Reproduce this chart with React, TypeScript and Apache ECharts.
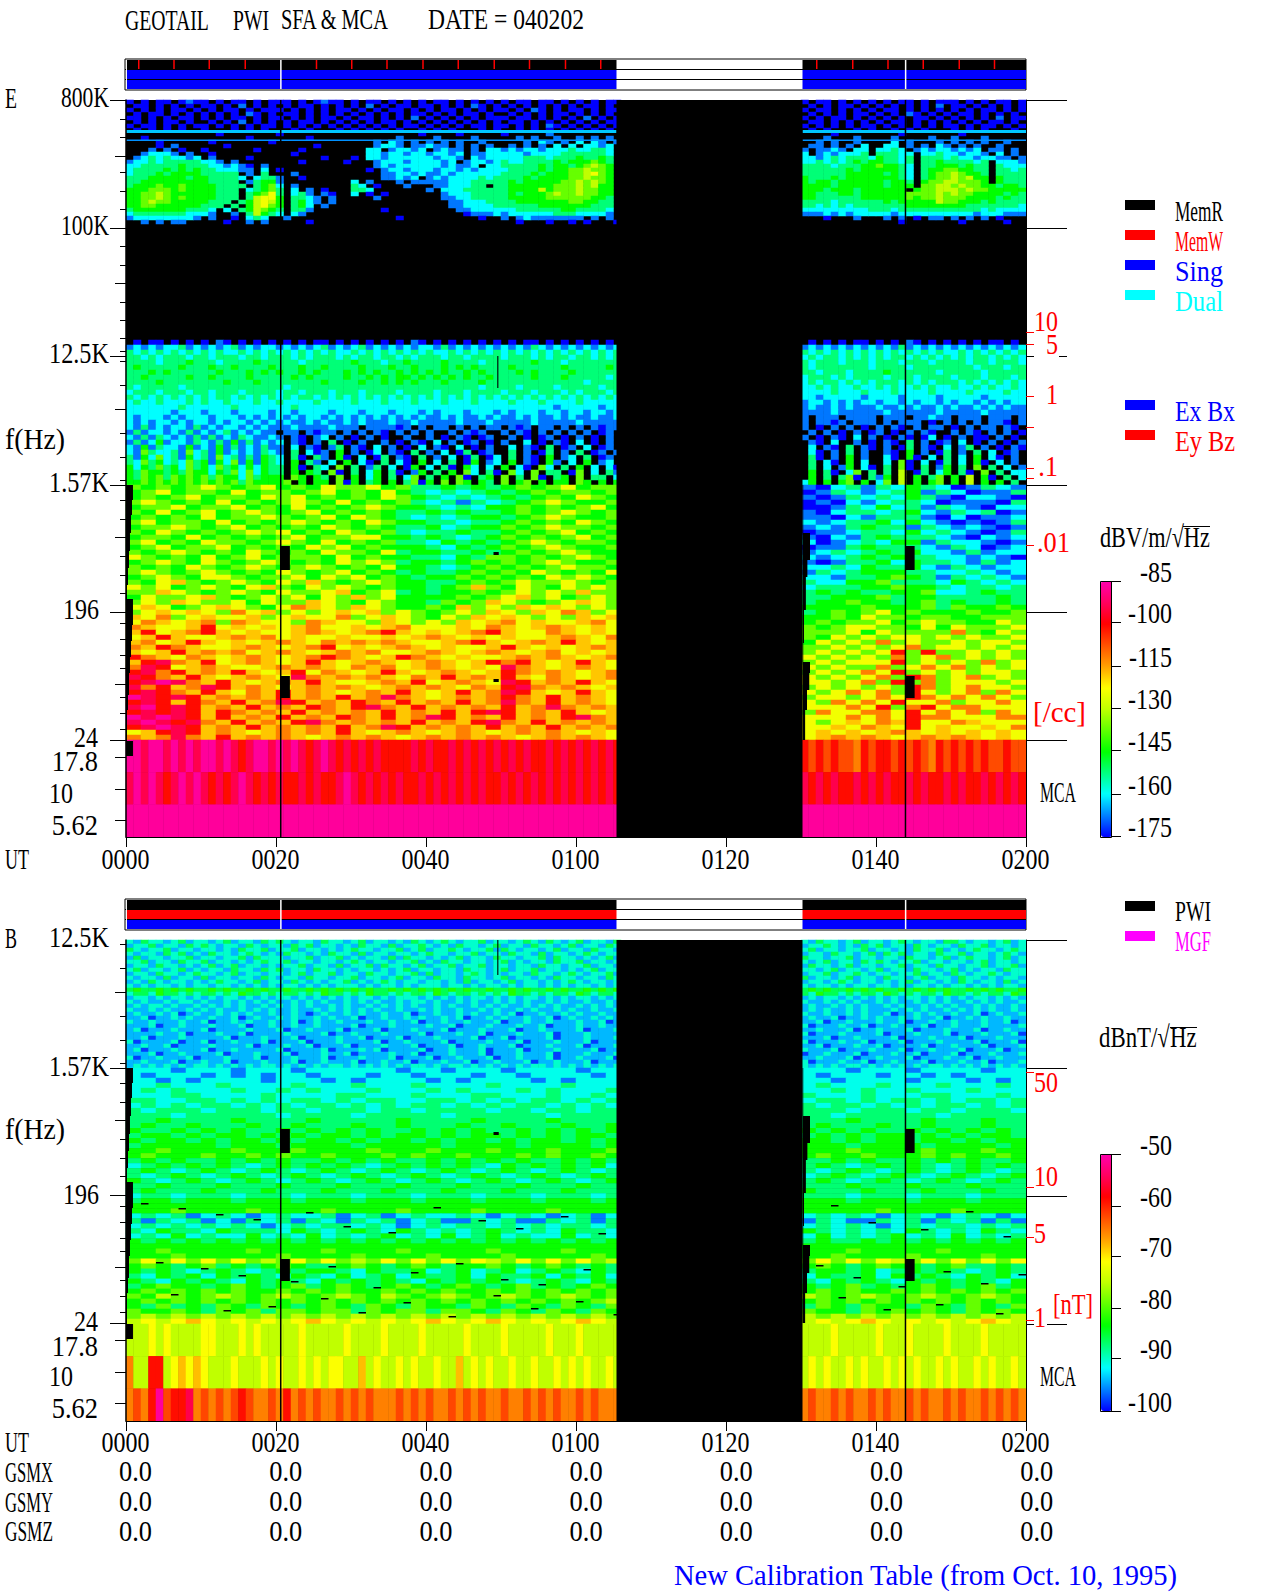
import React, { useEffect, useRef } from "react";
import * as echarts from "echarts";

// ---------- colour code of the spectrogram cells, as a fraction of the colour bar ----------
const LEVELS: Record<string, number> = {
  "0": 0.0, "1": 0.08, "2": 0.17, "3": 0.25, "4": 0.33, "5": 0.42, c: 0.5,
  "6": 0.57, b: 0.63, "7": 0.7, o: 0.76, "8": 0.82, a: 0.9, "9": 0.98,
};
const RAINBOW = ["#0000ff", "#0080ff", "#00ffff", "#00ff80", "#00ff00", "#60ff00", "#c0ff00", "#ffff00", "#ffa000", "#ff5000", "#ff0000", "#ff0060", "#ff00b0"];

// ---------- E field, top band, one cell a minute: left of the gap | right of the gap ; "." = no signal ----------
const eTopRows = [
  "0.0.00.010 0.0.00.0.0 00.0.0100. 0.00.0.0.0 .00.0.0.0. 0.00.00.0. 0.0.00|0.00.0.0.0 .0.00.0.00 0.0.0.00.0",
  ".00.0.0.0. 00.0.1.0.0 .0.00.0.0. 0.1.0.00.0 0.0.0.10.0 .0.0.0.0.0 .00.0.|.0.0.00.0. 0.0.0.0.1. 00.0.0.0.0",
  "0.0.0.00.0 .0.00.0.00 0.0.0.0.00 .0.0.00.0. 0.00.0.0.0 0.0.10.0.0 0.0.00|0.00.0.0.0 .00.0.0.0. 0.0.00.0.0",
  ".0.00.0.0. 0.0.0.10.0 .00.0.0.0. 0.0.0.0.00 .0.0.00.0. .0.0.0.00. 0.0.0.|.0.0.0.00. 0.0.10.0.0 .00.0.0.0.",
  "00.0.0.00. 0.0.00.0.0 0.0.0.00.0 .00.0.0.1. 0.0.0.0.00 0.00.0.0.0 .1.0.0|0.0.00.0.0 .0.0.00.0. 0.0.0.1.00",
  ".0.0.00.0. .0.0.1.0.0 .0.00.0.0. 0.0.00.0.0 .0.0.0.0.0 .00.0.0.0. 0.0.00|.00.0.0.0. 0.00.0.0.0 .0.0.00.0.",
  "0.00.0.0.0 0.0.0.0.00 .0.0.0.0.0 .0.0.0.00. 0.0.0.00.0 0.0.0.10.0 .0.0.0|0.0.0.0.00 .0.0.0.0.0 0.0.00.0.0",
  ".0.0.0.0.. 0...0.0.0. ..0.0...0. 0.0.0.0..0 .0.0...0.0 ..0.0.0.0. 0.0.0.|.0.0...0.0 ..0.0.0... 0.0.0...0.",
  ".......... ..0....... 0......... .........0 ....0..... 0.....1... ......|....0..... ...0...... .0........",
  "..0....... ......0... ....0..... ......1... .1....1... ..1.1..1.. 1.1.1.|...1...1.. ..1....1.. 1...1.....",
  "....0..... .0.......0 .......... ...1.21.1. 1.1.1..1.. ...1.21.1. 2.21.1|..1.1..1.. ..2.1...1. 1.1.1..1..",
  "....0.1... ...0...... .....0.... ...1221.11 211.1.1.1. .1.1.1.2.2 .2212.|.11.1.1.2. .22.1.1.21 .1.1..1...",
  "...1.1.0.. 0......0.. ...0...... ..22.12212 .1211.1.22 1212212223 22332.|1.1121.22. 2232.12122 1212.11.1.",
  "..12221.1. .0........ ..0....... ..22122122 12212.1122 2221222233 33332.|2.1212223. 33322.2232 21221.2.1.",
  ".123232212 .1....0... ......0... 0.22122222 21221.2122 2223332333 43343.|2212323332 43323.3332 32212211.1",
  "1223233333 221.1..... ...0.....0 ...1222122 2212.12212 3223333434 44543.|2232323434 43323.3343 33323.2221",
  "2233333433 3221210.1. .......... ...1212222 2212112.22 3333343443 45c54.|3333233344 54432.3344 43433.3222",
  "2333343434 3322211.2. 0......... ..0.122122 2122121222 2333343445 5c554.|3333334344 44432.3445 54433.3323",
  "2333434444 33333.1.3. ..1....... ....112212 1121222222 3333434445 5c654.|3333334444 43432.3455 c5443.3333",
  "3334444434 433332.233 1..0...... ....11212. 1212222323 3334344445 5c554.|4333434444 44432.3455 c5c44.4333",
  "3344444444 43333.1344 1......... 2.1...1.11 1112223333 3434444455 c5c54.|4344344444 43443.455c c5554.4333",
  "3444544544 443333.345 2.1....... 32.0...1.. .1122233.3 3444444555 c5c44.|4444344444 43444.55cc 5c55443443",
  "4445554544 44333.2345 3.2.1.0... 332....... 1.22233333 34444c4555 c5544.|4443444344 4444.455cc c5c5544444",
  "4455c54444 44333.3456 3.231.10.. 2.0.0..... ..12223333 3434445c55 c5544.|4433344344 44445555c5 c554444343",
  "4455c54544 44333.3c66 4.3321.1.. ...1...... ..11223333 3444445555 55443.|4433333344 44445455c5 5544443433",
  "445c554444 4333.34c6c 4.3421.1.. .......... ...1122233 3344444445 54433.|3333233333 34344444c5 5444343333",
  "4455444444 333.3.4c65 4.342.1... .......... ...1122223 3333344444 44333.|3323232333 3333444444 4433333332",
  "3444444433 32.2.34c54 3.331..... ....0..... ....112222 2233333344 33332.|2222222223 3323333333 3333232222",
  "2333333322 21..1.3c43 2.21...... .......... .....01112 1222222333 22221.|1112121222 2212222222 2221222111",
  "1222222221 .1..0.232. .1........ ......0... .......0.. 1.12111111 1.1.1.|...0...1.. .1.1.0.11. 1.1.1.0...",
  "..1.1.11.. ...0..1.1. ....0..... .......... .......... ..0...0..0 .0...0|.......... ...0...... .0.....0..",
  "",
];

// ---------- E field, below 12.5K, one cell a minute ----------
const eMidRows = [
  ".0.00.0.0. 0.10.0.0.0 .0.0.00.0. 0.0.0.0.10 .0.0.0.0.0 .0.00.0.0. 0.0.0.|.0.0.0.00. 0.0.10.0.0 .0.0.00.0.",
  "1212122312 1212312122 1212123121 2312121212 2131212121 2121321212 121212|1212121212 1213121212 1212121212",
  "3232323232 3232232323 2323232322 3232323232 3223232323 2323232323 232323|3232323232 3232323232 2323232323",
  "3323233323 3233323323 3323233323 2332332323 3323323333 2333232332 332323|2323323232 3233232323 2323323232",
  "3333233343 3323333433 3332333333 4333233433 3343333233 3333433323 333333|3233323332 3332333233 3323323332",
  "3433333433 3433433334 3334334333 3433343343 3343434333 3433333343 333343|3233333332 3333233333 3332333233",
  "3334343333 3343334343 4334343334 3434334343 4343343433 3343433334 333333|3323332333 3433333323 3333233333",
  "3343333343 3433334333 3343433334 3343434434 3434343343 3333433343 333323|2333232333 3233323333 2333233323",
  "3333433333 3334333433 3333334333 3433434343 3343333433 3333333333 323333|2323323232 3332323233 3232323232",
  "3233333233 3333333333 3233333333 3333333333 3333333233 3323333233 333233|2232322322 3232232322 3223232232",
  "2333233323 3233323333 2332333233 3233332333 3233323333 2333233323 233323|2222322232 2232222322 2232222322",
  "3232323232 3233232323 2323323232 3232323232 3232323232 3232323232 323232|2212222212 2221222212 2222122222",
  "2322322232 3223222322 3222232222 3222322232 2232223222 2322232222 322222|1221212122 1221212212 1221212122",
  "2222222322 2222322222 2232222222 2222222222 2222222222 2222222122 222122|1211212111 2112121121 2112121211",
  "2222221222 1222122221 2212222122 2122212221 2122212221 2122212212 212212|1111211111 1211111121 1111211111",
  "2122212122 2122212121 2121221212 1212121212 1121211212 1121211212 112112|1.111.1111 .111.11211 .111.111.1",
  "2121221212 2121221212 1211212112 1211121121 1111211121 1111211111 211111|1.1101.111 .1.111.0.1 .1.1.110.1",
  "2131212213 1212212121 1121111211 1.111101.1 .11.1.1.11 .101.11.1. 1.1011|1.0.1.1.0. 1.10.1.11. 0.1.11.10.",
  "1312212131 2123121211 .11.1011.1 .1.10.1.1. 1..1.101.. 1.10.1.1.1 .1.01.|.1.1.0.1.0 1.0.1.10.. 1.10.1.1.0",
  "2131321213 1312132112 1.10.12.1. 0.1.0..1.. 1.0.10.01. .1.0.01.0. 1.0.1.|1.0.10.2.1 .0.10.02.0 .1.00.1.0.",
  "1312412213 2131413121 2.10.1.3.0 .1..1.0.10 .2.1.01.0. 1..2.0.10. 2.0.1.|.10.2..1.0 .10.3.1.01 .2.0.1.0.1",
  "2141322141 2141312131 1.2.10.13. 10.2.1.0.2 .10.2.0.1. .2.10.3.01 .2.01.|.2.10.3.10 .1.03.10.2 .13.1.0.10",
  "2153223152 3141212132 1.3.201.4. 1.02.10.3. 1.2.03.01. .3.1.03.1. 3.01.1|.20.1.3.1. .10.4.1.03 .1.3.2.01.",
  "3142523142 3152313143 2.30.31.40 .2.03.10.3 .1.2.03.02 .3.10.4.12 .3.01.|.30.1.4.1. .20.40.2.3 .2.4.20.1.",
  "3253423253 4142514143 2.4.31.2.4 .20.3.20.4 .2.3.04.12 .4.10.41.2 .4.12.|.3.20.4.2. .2.50.2.03 .2.40.2.1.",
  "4243534253 4253424243 3.40.32.5. 3.13.2.04. 2.30.42.2. 4.20.52.3. 4.2.20|.3.2.14.20 .3.50.3.14 .3.5.3.2.1",
  "4354434354 4243525243 3.4.43.50. 3.24.30.14 .3.4.52.30 .52.5.33.0 5.2.31|.4.30.25.3 .3.c.03.24 .30.5.3.22",
  "4354535454 5354425344 4.54.43.5. 4.24.3.25. 3.4.50.34. 5.3.50.34. 5.33.2|.4.3.350.3 14.c.4.35. 4.c.40.3.2",
  "4454545454 5454535444 45.4.44.50 4.34.4.350 4.5.54.43. 5.45.4.44. 54.4.4|24.4.45.4. 25.c.4.45. 4.c.4.4.3.",
];

const eLowerRows = [
  "545456545645465564533434345456455|102313243201321",
  "456455464554564546432323434545545|013212341320113",
  "454564554656454546543232343454654|101323243102210",
  "565454645456546454532313234565445|010212332011103",
  "455645564546454565443232445454564|001324231321022",
  "546456456545645454334343345456545|102332342132301",
  "454546455654564654323234434565445|110213331020112",
  "564554645456545465443323345454654|212334242101013",
  "455654564545465454334234454565545|121343313212101",
  "546545456564546545323343345456454|011233242321013",
  "455464545456455664434323454545645|102134333210212",
  "564546554565464545332434345654554|201232441322101",
  "456455645454656454443243454565445|011343332132012",
  "545654546545465546344334345456544|123234342213122",
  "654546456455546454433243554545654|212343433221210",
  "456546545654546565344345454565445|101334243321312",
  "545465456545654546443234545456554|223243342132122",
  "565456545465456454343345454654546|132344433223212",
  "456546654556465645434454545465654|221334543132321",
  "546b54565465b54565443345456556545|322445333243232",
  "656456546b5465654544345b546546565|233344544323323",
  "55b65456546556b456343445456565b55|343433445223433",
  "46556b545656465b5644445456b564565|334445344333343",
  "565b65564655b65465443545b65456b65|344544345343343",
  "6b6456b65467b65b654454b565b6b6565|444454445354454",
  "56b6b6576b5656b6b5654565b65b67b56|345456454445445",
  "b6756b66b56b66756b65465b6b6565b6b|445465545544555",
  "67b6b757b6657b665b6565b6b76b66b76|454556456554465",
  "7b66b86b6b6b766b6b7666b67b6b7b6b6|545665546465556",
  "b86b78b6b66b7b6b78b6b6b78b667b6b6|555646555575465",
  "6b8b66b7b76b66b66b6b7b6b6b66b7b67|546565665656556",
  "b76b8b6b6b7b67b7b7b66b78b6b7b8b6b|465657565565665",
  "7b87b66b7b6b786b6b7b6b66b8b6b6b7b|556565675665656",
  "b6b8b7b76b7b6b7b766b7b6b7b6b76b6b|565656858556565",
  "87b67b6b7b6b787b6b87b6b66b7b7b6b7|656565756756565",
  "b8a7b86b7b6b8b6b7b6b7b6b878b6b8b6|565666856565756",
  "7a86b7b66b7b7b67b76b7b6b6a7b6b7b6|656557567675656",
  "8a78b7b8b6b867b6b8b6b7b6b87b7b6b7|565676856565665",
  "a87b8b6b7b6a7b7b7b67b8b7b8b67b6b7|656567587567565",
  "8a9a7b8b6b7b8b66b7b86b7b6a8b7b8b6|665675857566656",
  "a78b7a8b7b6b7b7b6b7b7b67b8a7b7b6b|565656587567665",
  "8a87b8b67b8b7b6b7b8b6b8b7a8b6b8b6|656767586567576",
  "9a8a8b7b7b8b7b8b7a7b6b7b787b8b7b6|566567687676765",
  "8a8b87b8b7a8b7b87b8b7b8b7a7b8b7b6|657676866756676",
  "a98a8b7b8b7b87b8a7b8b7b7b8b7a7b7b|666768578677666",
  "8a8a8b87b7b8b7b7b8b7b8b8a8b7b8b6b|576677686767576",
  "9a9a8b8b7b8b7b87b8b7a8b7b8b7b8a7b|666767687766677",
  "a9a8a7b8b7b8a7b7b7b8b7b8a7b8b7b7b|656b67b8667b666",
  "8a9a8b7b8b7b7b8b7a8b7b7b8b7b8b7b7|66b67b686b66b67",
  "6b8a8b7b6b7b7b8b6b7b6b7b6b7b7b6b6|6b6b6b7b6b6b6b6",
  "7b7a7b8b7b7b6b7b7b6b7b7b7b6b7b7b6|6b7b7b6b7b7b6b6",
];

const eMcaRows = [
  "99a99a9a9a99a9a8a99a9a9a8a9a8a8a8a8888a8a88a8a8a8a8a8a88a8a8a8a8a8|8o8o8oo78o88o8o8o78o8o8o8oo8oo",
  "a9a9a8a9a9a8a8a9a8a8a88a8a88a9a8a8a8a88a8a8a8a8a88a8a8a8a8a8a8a8a8|a8a8a88a8a8a88a8a88a8a88a8a8a8",
  "999999999999999999999999999999999999999999999999999999999999999999|999999999999999999999999999999",
];

// ---------- B field, one cell a minute above 1.57K ----------
const bUpperRows = [
  "2132212312 2123122132 3212213221 2312212132 1232122312 2123213212 312213|2132212312 2123212213 3212212312",
  "1223122132 3212213212 2132312212 1322131223 2121322123 1221322123 122132|1223212132 3122132122 1322312212",
  "3212231221 2212132231 2231221212 3221223123 1223212231 3212212312 213221|2312212231 2212132231 2123221232",
  "2122132312 1322123212 1322121322 1312212212 3221223122 1322131221 232122|1221322123 1323122132 2312212321",
  "1312212231 2212231322 2122312231 2122131322 1212312213 2212231322 121231|3221223122 1221322123 1232212312",
  "2231221322 3122121232 2312212212 3212212231 2132212212 3121221322 312212|2123122132 3212231221 2212312212",
  "1221322121 2312312212 1223122131 2231322123 1223122312 2122132212 231221|1322123122 1223122132 2122312231",
  "2312212312 1221322132 3122132212 1221212312 2122132212 3122312212 123122|2212312212 3122132212 3121221322",
  "1221322123 2212312212 2123122312 2132212231 3122123212 1221322123 212231|1223122321 2212231221 3212232122",
  "2122131221 3122122132 1221322122 3122123122 1322132212 3122121322 122132|3122123122 1322123122 1322121221",
  "1213212212 1232212312 2132121223 1212321221 2212131221 2312212123 212212|1221232122 1212312212 1321221312",
  "2121221212 2122121212 1221212122 2121221212 2212212122 1212212121 221212|2122121221 2212122121 2212121221",
  "3433434343 3434334343 3433434343 4343343434 3434343343 3434334343 343434|3434334343 4334343434 3343434334",
  "2332433232 3323243323 2332324332 3243323233 2432332323 2433232332 432332|3243323233 2432323324 3323233243",
  "1221212212 1212212121 2212121212 1221212221 2121212212 1212212121 221212|1212212121 2121221212 1212212121",
  "2121121221 2112121212 1121212112 1212112122 1211212112 1212112121 121121|2112121211 2121121212 1121212112",
  "1212212112 1212121121 2121211212 1121212121 1212112121 2112121211 212121|1211212121 1212112121 2112121121",
  "2112121121 2121121212 1121121212 1212112112 1211211212 1121211212 112112|1212112121 1121212112 1212121121",
  "1211212012 1121212112 1121012112 1211211201 1211212112 1201121121 211211|2112112121 1201121211 2112012112",
  "1120112121 1211201211 2121121211 2011211212 1121201121 2112112012 112121|1211201121 2112121120 1121211211",
  "2112111211 2011212112 1120121121 1121121120 1121121112 0112112111 211201|1120112111 2112011211 2111211201",
  "1112011211 1211120112 1121121111 2011121111 2112011121 1121120111 211211|2011121120 1121112011 2111211112",
  "1201112111 2011112111 2011211120 1112011121 1120111211 1201121111 201112|1121112011 2111201112 1112011211",
  "1111211201 1121120111 1211112011 2111211112 0111211201 1121112011 121111|2011121111 2011121112 0111211120",
  "1120111211 1112011121 1120111121 1201112011 1211112011 2011112011 121112|1112011211 1120111211 1201112111",
  "2011112011 2011211120 1112011121 1112011211 1120111121 1120111211 120111|2011121120 1112011121 1112011120",
  "1121120111 1211112011 1211201112 0111211120 1112011211 1201112111 201112|1120111211 2011112011 2111201112",
  "1201112111 2011211111 2011112011 1212011112 0112111201 1120111211 112011|2111201112 1112011211 1201112011",
  "1112011211 1120111211 1201112112 0111121120 1112111201 1121112011 121112|0112111201 1121120111 2011121112",
  "2011211120 1112111201 1121112011 1211120111 2011211120 1121112011 211120|1121112011 2111201112 1120112111",
  "1121112011 2112011121 1120112111 2011211201 1121120112 1112011211 120111|2011121120 1121112011 1211201112",
  "1212121212 2121212122 1212121221 2121212122 1212212121 2121221212 121212|2121212212 1212121221 2121212121",
];

const bLowerRows = [
  "222122212221222222122122212222122|222122212222122",
  "212221212122122212212221221222212|212221221212222",
  "221212222122212122221212222121222|221222212221212",
  "223222322223222322232222322223222|232223222322232",
  "232322232232322232223232223232223|223232232223222",
  "222332222322223322232223322232232|322232223322232",
  "332233232323323233223323232332323|233232332323323",
  "232323323232332323233232323323232|323323232332323",
  "323332333233233323323333233233233|333233323323332",
  "333233333323333233333233333323333|332333333233333",
  "334333343333433333433334333343333|333433334333433",
  "343343334334333433433343343334334|343334334333433",
  "433434343343434343343434334343434|434343343434343",
  "344343443434344343443434434343443|343434434343443",
  "434434344343443434434344343443434|443434434434344",
  "344444344434444344444344443444434|444344443444434",
  "445444454445444454445444544454445|444544445444544",
  "454445445454454445454454445454454|454454445454454",
  "343433434343343434334343434334343|334343343434334",
  "234343432343434323434343243434342|343234343234343",
  "343234323432343234323432343234323|323432343234323",
  "323432343234323432343234323432343|234323432343234",
  "432343234323432343234323432343234|343234323432343",
  "334333433343334333433343334333433|333433343334333",
  "343334333433343334333433343334333|433343334333433",
  "233233323332333233323332333233323|333233323332333",
  "344344434443444344434443444344434|444344434443444",
  "444444444444444444444444444444444|444444444444444",
  "444544445444454444544445444454444|444445444454444",
  "232312321232231231232232123212312|232321232123212",
  "313231213231321323123113231132313|132113231323131",
  "232323232123233232123233232323323|232321232332323",
  "324332433324323432432323432324332|432323243232432",
  "232423224232423234232423423224232|242323423242323",
  "434343434343434343434343434343434|343343434343434",
  "444444444444444444444444444444444|444444444444444",
  "445444445444454444544444544445444|444544444544444",
  "444544444454444544445444454444454|445444454444544",
  "565656565c56565c56565656c5656565c|565656c56565656",
  "454345343454334543454344543454343|454345443453343",
  "434323432343443243342342342343243|344342343432343",
  "324342434324324234243342433424342|243342434324342",
  "432434324343243434324343432343243|324343243434324",
  "345443454345345434543454345343454|434534345434534",
  "454545454454545445454544545454545|454544545454545",
  "54c545c545c545c54c545c545c545c545|c545c545c545c54",
  "45454545454545454545454545454545c|454545454545454",
  "435343543543454354354435435435435|354354435435435",
  "544543545355455354553554354354354|544354545435454",
  "5c5c5c5c5c5c5c5c5c5c5c5c5c5c5c5c5|c5c5c5c5c5c5c5c",
  "c6c6b6c6c6c6b6c6c6c6b6c6b6c6c6b6c|c6c6b6c6c6c6b6c",
];

const bMcaRows = [
  "ccc6c6cccc66ccc6c6ccccc6ccccc6cccc6cccc6ccccc6cccc6ccccc6ccc6ccccc|cccc6ccccc6ccc6cccc6cccc6ccccc",
  "7cc88c6b6b6ccc6ccc6c6cc6c6c66ccbc6cc6c6cc6ccbc6c6cc6cc6cc6c6c6cc6c|c6c6cc6c6cc6c6c6cc6c6cc6c6cc6c",
  "7o789o88a7o7o7o8o77o787o7o77o7o7o777o7o7o77o7o7o77o77o7o7o77o7o777|7o77o7o77o7o77o7o77o7o77o7o7o7",
];

// ---------- marks (minutes after 0000, and screen rows) ----------
const dataGap = [[65.4, 90.2]];
const verticalLines = [20.6, 103.9];
const memWriteMarks = [1.6, 6.3, 11, 15.8, 25.3, 30, 34.7, 39.5, 44.2, 49, 53.7, 58.5, 63.2, 92, 96.8, 101.5, 106.2, 111, 115.7];
const calLeft = [0.93, 0.8, 0.67, 0.53, 0.4, 0.27, 0.13, 0.93, 0.8, 0.67, 0.53, 0.4, 0.27, 0.13, 0.93];
const calRight = [0.1, 1.0, 0.65, 0.45, 0.2, 0.1, 1.0, 0.9, 0.6, 0.35];
const bDashTimes = [2, 7, 12, 17, 24, 29, 35, 41, 47, 52, 58, 63, 94, 99, 106, 112, 117, 4, 10, 15, 22, 27, 33, 38, 44, 50, 55, 61, 92, 97, 103, 109, 114, 119, 6, 13, 19, 26, 31, 37, 43, 49, 54, 60, 65, 95, 101, 108, 116];
const bDashRows = [1203, 1208, 1214, 1219, 1212, 1226, 1232, 1207, 1220, 1228, 1216, 1233, 1205, 1222, 1229, 1211, 1236, 1262, 1268, 1275, 1281, 1266, 1287, 1272, 1263, 1279, 1284, 1269, 1265, 1277, 1286, 1271, 1283, 1274, 1294, 1310, 1306, 1298, 1312, 1302, 1316, 1295, 1308, 1301, 1314, 1297, 1309, 1304, 1313];

// ---------- labels ----------
const timeLabels = ["0000", "0020", "0040", "0100", "0120", "0140", "0200"];
const gsmRows = ["GSMX", "GSMY", "GSMZ"];
const gsmValue = "0.0";
const legendTop = [["MemR", "#000000"], ["MemW", "#ff0000"], ["Sing", "#0000ff"], ["Dual", "#00ffff"]];
const legendMid = [["Ex Bx", "#0000ff"], ["Ey Bz", "#ff0000"]];
const legendLow = [["PWI", "#000000"], ["MGF", "#ff00ff"]];
const eBarLabels = ["-85", "-100", "-115", "-130", "-145", "-160", "-175"];
const bBarLabels = ["-50", "-60", "-70", "-80", "-90", "-100"];

// ---------- layout ----------
const PX_LEFT = 126, PX_W = 900;
const FONT = '24px "Liberation Serif"';
const SY = 1.25;

const majorTicks = [100, 228, 356, 485, 612, 740];
const midTicks = [156, 283, 409, 537, 684, 757, 789, 820];
const shortTicks = [119, 137, 172, 191, 209, 246, 265, 302, 320, 338, 351, 361, 385, 433, 457, 480, 500, 519, 556, 575, 593, 623, 639, 655, 668, 697, 713, 729];
const SHIFT = 583;

function App() {
  const ref = useRef<HTMLDivElement>(null);
  useEffect(() => {
    if (!ref.current) return;
    const chart = echarts.init(ref.current, null, { renderer: "svg" });
    const ctx = document.createElement("canvas").getContext("2d")!;
    ctx.font = FONT;

    const grid: any[] = [], xAxis: any[] = [], yAxis: any[] = [], series: any[] = [], g: any[] = [];

    const T = (text: string, x: number, yy: number, align = "left", fill = "#000", pitch = 12) => {
      const natural = ctx.measureText(text).width || 1;
      const target = text.length * pitch;
      let sx = 1;
      if (/[A-Za-z(&]/.test(text)) sx = target / natural;
      else if (text.includes(".")) sx = Math.min(1.1, target / natural);
      else if (natural > target) sx = target / natural;
      g.push({
        type: "text", x, y: yy - 1, scaleX: sx, scaleY: SY, silent: true, z: 60,
        style: { text, font: FONT, fill, textAlign: align, textVerticalAlign: "middle", align, verticalAlign: "middle" },
      });
    };
    const L = (x1: number, y1: number, x2: number, y2: number, stroke = "#000") =>
      g.push({ type: "line", silent: true, z: 60, shape: { x1, y1, x2, y2 }, style: { stroke, lineWidth: 1 } });
    const R = (x: number, y: number, width: number, height: number, fill: string) =>
      g.push({ type: "rect", silent: true, z: 60, shape: { x, y, width, height }, style: { fill } });

    const heat = (top: number, height: number, rawRows: string[], nCols: number, rightStart: number, min: number, max: number, lift = 0) => {
      const rows = rawRows.map((r) => r.replace(/ /g, ""));
      const gi = grid.length;
      grid.push({ show: true, left: PX_LEFT, width: PX_W, top, height, backgroundColor: "#000", borderWidth: 0 });
      xAxis.push({ type: "category", gridIndex: gi, show: false, data: Array.from({ length: nCols }, (_, i) => String(i)) });
      yAxis.push({ type: "category", gridIndex: gi, show: false, inverse: true, data: rows.map((_, i) => String(i)) });
      const data: number[][] = [];
      const right = nCols - (nCols === 60 ? 15 : 30);
      const val = (ch: string) => Math.round(min + (LEVELS[ch] + lift) * (max - min));
      rows.forEach((row, r) => {
        const [a0 = "", b0 = ""] = row.split("|");
        if (!a0) return;
        const a = a0.padEnd(rightStart, a0[a0.length - 1]);
        const b = b0.padEnd(nCols - right, b0[b0.length - 1] || ".");
        a.split("").forEach((ch, i) => {
          if (ch in LEVELS && i < rightStart) data.push([i, r, val(ch)]);
        });
        b.split("").forEach((ch, i) => {
          if (ch in LEVELS && right + i < nCols) data.push([right + i, r, val(ch)]);
        });
      });
      series.push({ type: "heatmap", xAxisIndex: xAxis.length - 1, yAxisIndex: yAxis.length - 1, data, silent: true, z: 2, progressive: 0, emphasis: { disabled: true } });
    };

    heat(100, 128, eTopRows, 120, 66, -175, -85);
    heat(228, 112, [""], 60, 33, -175, -85);
    heat(340, 145, eMidRows, 120, 66, -175, -85);
    heat(485, 255, eLowerRows, 60, 33, -175, -85);
    heat(740, 97, eMcaRows, 120, 66, -175, -85);
    heat(940, 128, bUpperRows, 120, 66, -100, -50, 0.03);
    heat(1068, 256, bLowerRows, 60, 33, -100, -50);
    heat(1324, 97, bMcaRows, 120, 66, -100, -50);

    const rects = (xi: number, yi: number, data: number[][], color: string, z = 5) =>
      series.push({
        type: "custom", xAxisIndex: xi, yAxisIndex: yi, data, silent: true, z,
        encode: { x: [0, 1], y: [2, 3] },
        renderItem: (_: any, api: any) => {
          const a = api.coord([api.value(0), api.value(2)]);
          const b = api.coord([api.value(1), api.value(3)]);
          return { type: "rect", shape: { x: a[0], y: a[1], width: b[0] - a[0], height: b[1] - a[1] }, style: { fill: color } };
        },
      });

    // frame of a spectrogram panel: the y scale runs in screen rows below the panel top
    const frame = (top: number, height: number, shift: number, rightTicks: number[], redTicks: number[]) => {
      const gi = grid.length;
      grid.push({ show: false, left: PX_LEFT, width: PX_W, top, height });
      const xi = xAxis.length;
      xAxis.push({
        type: "value", gridIndex: gi, min: 0, max: 120, interval: 20, position: "bottom", z: 10,
        splitLine: { show: false }, axisLabel: { show: false },
        axisLine: { show: true, onZero: false, lineStyle: { color: "#000", width: 1 } },
        axisTick: { show: true, length: 10, lineStyle: { color: "#000", width: 1 } },
      });
      const yi = yAxis.length;
      const axis = (position: string, len: number, color: string, vals: number[], lineW: number) =>
        yAxis.push({
          type: "value", gridIndex: gi, min: 0, max: height, inverse: true, position, z: 10,
          splitLine: { show: false }, axisLabel: { show: false },
          axisLine: { show: lineW > 0, onZero: false, lineStyle: { color: "#000", width: lineW } },
          axisTick: { show: true, length: len, customValues: vals, lineStyle: { color, width: 1 } },
        });
      const pick = (a: number[]) => a.map((p) => p + shift - top).filter((v) => v >= 0 && v <= height);
      axis("left", 16, "#000", pick(majorTicks), 1.5);
      axis("left", 11, "#000", pick(midTicks), 0);
      axis("left", 6, "#000", pick(shortTicks), 0);
      axis("right", 41, "#000", rightTicks.map((p) => p - top), 1);
      axis("right", 8, "#ff0000", redTicks.map((p) => p - top), 0);

      const h = height;
      rects(xi, yi, dataGap.map(([a, b]) => [a, b, 0, h]), "#000");
      rects(xi, yi, verticalLines.map((t) => [t - 0.07, t + 0.13, 0, h]), "#000", 6);
      // calibration wedges below each 1.57K row
      const row0 = 485 + shift - top;
      const heights = [15, 15, 18, 18, 17, 17, 14, 26, 16, 16, 16, 22, 15, 31, 15];
      const black: number[][] = [];
      let y = row0;
      calLeft.forEach((w, i) => { black.push([0, w, y, y + heights[i]]); y += heights[i]; });
      const rH = [48, 27, 17, 33, 33, 19, 11, 17, 20, 30];
      y = row0;
      calRight.forEach((w, i) => { black.push([90.2, 90.2 + w, y, y + rH[i]]); y += rH[i]; });
      verticalLines.forEach((t) => {
        black.push([t, t + 1.25, row0 + 61, row0 + 85]);
        black.push([t, t + 1.25, row0 + 191, row0 + 213]);
      });
      rects(xi, yi, black, "#000", 6);
      return { xi, yi };
    };

    const eF = frame(100, 737, 0, [100, 228, 485, 612, 740], [332, 344, 396, 427, 468, 478, 545]);
    const bF = frame(940, 481, SHIFT, [940, 1068, 1196], [1072, 1187, 1237, 1320]);

    // narrow bright emission lines of the E panel
    rects(eF.xi, eF.yi, [[0, 65.4, 30, 33], [90.2, 120, 30, 33]], "#00c8ff", 4);
    rects(eF.xi, eF.yi, [[0, 65.4, 39.5, 41], [90.2, 120, 39.5, 41]], "#0090ff", 4);
    rects(eF.xi, eF.yi, [[49.5, 49.65, 256, 288], [49, 49.7, 452, 455], [49, 49.7, 579, 582]], "#000", 6);
    rects(bF.xi, bF.yi, [[49.5, 49.65, 0, 35], [49, 49.7, 192, 195]], "#000", 6);
    // short black dropouts in the B spectrogram
    rects(bF.xi, bF.yi, bDashTimes.map((t, i) => [t, t + 1, bDashRows[i] - 940, bDashRows[i] - 938.5]), "#000", 4);

    // status strips above each panel
    const strip = (top: number, colors: string[]) => {
      const gi = grid.length;
      grid.push({ show: true, left: 125, width: 901, top, height: 31, backgroundColor: "#fff", borderColor: "#000", borderWidth: 1 });
      const xi = xAxis.length, yi = yAxis.length;
      xAxis.push({ type: "value", gridIndex: gi, min: -0.133, max: 120, show: false });
      yAxis.push({ type: "value", gridIndex: gi, min: 0, max: 31, inverse: true, show: false });
      colors.forEach((c, row) => {
        const y0 = row * 10 + 1, y1 = row * 10 + 10;
        rects(xi, yi, [[0, 65.4, y0, y1], [90.2, 120, y0, y1]], c, 5);
      });
      rects(xi, yi, [[-0.133, 120, 10, 11], [-0.133, 120, 20, 21]], "#000", 6);
      rects(xi, yi, [[0, 0.13, 1, 30], [20.55, 20.75, 1, 30], [103.85, 104.05, 1, 30]], "#fff", 7);
      return { xi, yi };
    };
    const eS = strip(59, ["#000000", "#0000ff", "#0000ff"]);
    strip(899, ["#000000", "#ff0000", "#0000ff"]);
    rects(eS.xi, eS.yi, memWriteMarks.map((t) => [t, t + 0.2, 1, 10]), "#ff0000", 6);

    const visualMap = [
      { type: "continuous", seriesIndex: [0, 1, 2, 3, 4], min: -175, max: -85, left: 1101, top: 581, itemWidth: 11, itemHeight: 256, padding: 0, calculable: false, hoverLink: false, inRange: { color: RAINBOW } },
      { type: "continuous", seriesIndex: [5, 6, 7], min: -100, max: -50, left: 1101, top: 1154, itemWidth: 11, itemHeight: 257, padding: 0, calculable: false, hoverLink: false, inRange: { color: RAINBOW } },
    ];

    // ---------- texts ----------
    T("GEOTAIL", 125, 20);
    T("PWI", 233, 20);
    T("SFA & MCA", 281, 20);
    T("DATE = 040202", 428, 20);

    T("E", 5, 98);
    [["800K", 98, 109], ["100K", 226, 109], ["12.5K", 354, 109], ["1.57K", 483, 109], ["196", 610, 99], ["24", 738, 98], ["17.8", 762, 98], ["10", 794, 73], ["5.62", 826, 98]]
      .forEach(([s, y, x]) => T(s as string, x as number, y as number, "right"));
    T("f(Hz)", 5, 440);
    T("UT", 5, 860);
    T("B", 5, 939);
    [["12.5K", 938, 109], ["1.57K", 1067, 109], ["196", 1195, 99], ["24", 1322, 98], ["17.8", 1347, 98], ["10", 1377, 73], ["5.62", 1409, 98]]
      .forEach(([s, y, x]) => T(s as string, x as number, y as number, "right"));
    T("f(Hz)", 5, 1130);
    T("UT", 5, 1443);

    timeLabels.forEach((s, i) => {
      T(s, 125.5 + 150 * i, 860, "center");
      T(s, 125.5 + 150 * i, 1443, "center");
    });
    gsmRows.forEach((s, r) => {
      const y = 1472 + 30 * r;
      T(s, 5, y);
      timeLabels.forEach((_, i) => T(gsmValue, 135.5 + 150.2 * i, y, "center"));
    });
    T("New Calibration Table (from Oct. 10, 1995)", 674, 1576, "left", "#0000ff");

    // right-hand red and black notes
    [["10", 322], ["5", 345], ["1", 395], [".1", 467]].forEach(([s, y]) => T(s as string, 1058, y as number, "right", "#ff0000"));
    T(".01", 1070, 543, "right", "#ff0000");
    T("[/cc]", 1086, 713, "right", "#ff0000", 10.6);
    T("MCA", 1076, 793, "right");
    T("10", 1058, 1177, "right", "#ff0000");
    T("50", 1058, 1083, "right", "#ff0000");
    T("5", 1046, 1234, "right", "#ff0000");
    T("1", 1046, 1318, "right", "#ff0000");
    T("[nT]", 1093, 1305, "right", "#ff0000", 10);
    T("MCA", 1076, 1377, "right");
    L(1026, 356.5, 1034, 356.5); L(1059, 356.5, 1067, 356.5);
    L(1026, 1324.5, 1034, 1324.5); L(1047, 1324.5, 1067, 1324.5);

    // legends
    legendTop.forEach(([s, c], i) => { R(1125, 200 + 30 * i, 30, 10, c); T(s, 1175, 212 + 30 * i, "left", c); });
    legendMid.forEach(([s, c], i) => { R(1125, 400 + 30 * i, 30, 10, c); T(s, 1175, 412 + 30 * i, "left", c); });
    legendLow.forEach(([s, c], i) => { R(1125, 901 + 30 * i, 30, 10, c); T(s, 1175, 911 + 30 * i, "left", c); });

    // colour bar titles and ticks
    T("dBV/m/√Hz", 1100, 538, "left", "#000", 12.2);
    L(1183, 526.5, 1210, 526.5);
    T("dBnT/√Hz", 1099, 1038, "left", "#000", 12.2);
    L(1170, 1027.5, 1197, 1027.5);
    g.push({ type: "rect", silent: true, z: 61, shape: { x: 1100.5, y: 581.5, width: 11, height: 256 }, style: { fill: "none", stroke: "#000", lineWidth: 1 } });
    g.push({ type: "rect", silent: true, z: 61, shape: { x: 1100.5, y: 1154.5, width: 11, height: 257 }, style: { fill: "none", stroke: "#000", lineWidth: 1 } });
    const eBarY = [581, 622, 666, 708, 750, 794, 836];
    eBarLabels.forEach((s, i) => { L(1111, eBarY[i] + 0.5, 1121, eBarY[i] + 0.5); T(s, 1172, eBarY[i] - 8, "right"); });
    const bBarY = [1154, 1206, 1256, 1308, 1358, 1411];
    bBarLabels.forEach((s, i) => { L(1111, bBarY[i] + 0.5, 1121, bBarY[i] + 0.5); T(s, 1172, bBarY[i] - 8, "right"); });

    chart.setOption({
      animation: false,
      backgroundColor: "#fff",
      grid, xAxis, yAxis, series, visualMap,
      graphic: { elements: g },
    });
    return () => chart.dispose();
  }, []);
  return <div ref={ref} style={{ position: "absolute", left: 0, top: 0, width: 1280, height: 1593 }} />;
}

export default App;
